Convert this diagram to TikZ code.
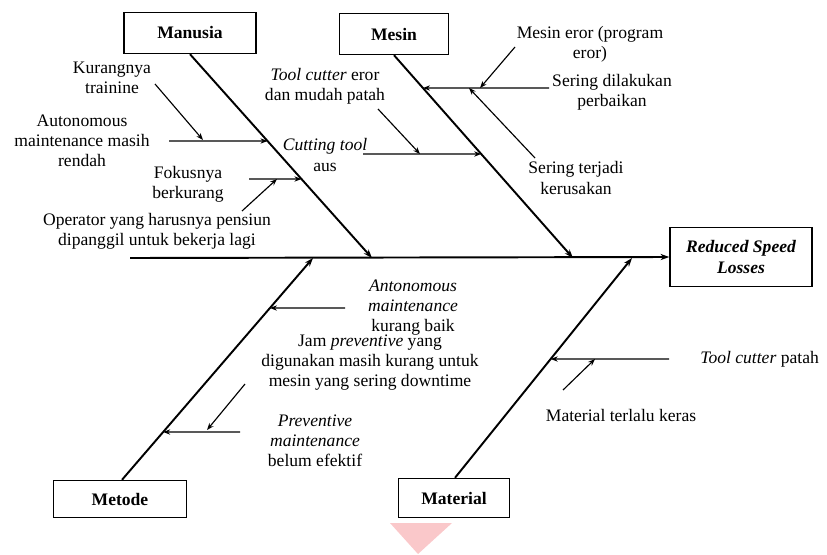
\documentclass[tikz,border=0pt]{standalone}
\usepackage{fontspec}
\setmainfont{Liberation Serif}
\usetikzlibrary{arrows.meta,calc}
\definecolor{wmpink}{RGB}{250,200,202}

\begin{document}
\begin{tikzpicture}[x=0.02cm,y=-0.02cm,
  cat/.style={draw,line width=0.8pt,font=\bfseries,inner sep=0pt},
  txt/.style={align=center,font=\fontsize{10}{11.4}\selectfont,inner sep=0pt},
  bone/.style={line width=1.1pt,-{Stealth[length=5pt,width=3.5pt]}},
  twig/.style={line width=0.65pt,-{Stealth[length=4pt,width=3pt]}}]
	\useasboundingbox (0,0) rectangle (827,554);
	%WATERMARK
	\fill[wmpink] (390,523) -- (452,523) -- (418,554) -- cycle;
	%HEAD AND CATEGORIES
	\node[cat,minimum width=2.84cm,minimum height=1.18cm,font=\bfseries\itshape,align=center] (effect) at (741,257) {Reduced Speed\\Losses};
	\node[cat,minimum width=2.64cm,minimum height=0.82cm] (manusia) at (190,33) {Manusia};
	\node[cat,minimum width=2.18cm,minimum height=0.82cm] (mesin) at (394,34) {Mesin};
	\node[cat,minimum width=2.66cm,minimum height=0.74cm] (metode) at (120,499) {Metode};
	\node[cat,minimum width=2.22cm,minimum height=0.78cm] (material) at (454,498) {Material};
	%SPINE AND BONES
	\coordinate (tail) at (130,258);
	\coordinate (jman) at (372,258);
	\coordinate (jmes) at (573,258);
	\coordinate (jmet) at (313,258);
	\coordinate (jmat) at (632,258);
	\draw[bone] (tail) -- (effect.west);
	\draw[bone] (manusia.south) -- (jman);
	\draw[bone] (mesin.south) -- (jmes);
	\draw[bone] (metode.north) ++(2,0) coordinate (bmet) -- (jmet);
	\draw[bone] (material.north) ++(1,0) coordinate (bmat) -- (jmat);
	%MANUSIA
	\node[txt] (kurang) at (112,78) {Kurangnya\\trainine};
	\node[txt] (auto) at (82,141) {Autonomous\\maintenance masih\\rendah};
	\node[txt] (fokus) at (188,184) {Fokusnya\\berkurang};
	\node[txt] (oper) at (157,231) {Operator yang harusnya pensiun\\dipanggil untuk bekerja lagi};
	\coordinate (a1) at (169,141);
	\coordinate (a2) at (249,179);
	\draw[twig] (a1) -- (intersection of a1--{$(a1)+(1,0)$} and manusia.south--jman) coordinate (a1e);
	\draw[twig] (a2) -- (intersection of a2--{$(a2)+(1,0)$} and manusia.south--jman) coordinate (a2e);
	\draw[twig] (155,84) coordinate (k1) -- (203,140);
	\draw[twig] (242,211) coordinate (o1) -- (277,179);
	%MESIN
	\node[txt] (tcut) at (325,86) {\textit{Tool cutter} eror\\dan mudah patah};
	\node[txt] (ctool) at (325,155) {\textit{Cutting tool}\\aus};
	\node[txt] (meror) at (590,44) {Mesin eror (program\\eror)};
	\node[txt] (sdil) at (612,92) {Sering dilakukan\\perbaikan};
	\node[txt] (sker) at (576,178) {Sering terjadi\\kerusakan};
	\coordinate (b1) at (363,154);
	\coordinate (b2) at (549,88);
	\draw[twig] (b1) -- (intersection of b1--{$(b1)+(1,0)$} and mesin.south--jmes);
	\draw[twig] (b2) -- (intersection of b2--{$(b2)+(1,0)$} and mesin.south--jmes);
	\draw[twig] (378,109) coordinate (t1) -- (420,154);
	\draw[twig] (515,47) coordinate (m1) -- (480,88);
	\draw[twig] (535,158) coordinate (s1) -- (469,88);
	%METODE
	\node[txt] (anto) at (413,308) {\textit{Antonomous}\\\textit{maintenance}\\kurang baik};
	\node[txt] (jam) at (370,363) {Jam \textit{preventive} yang\\digunakan masih kurang untuk\\mesin yang sering downtime};
	\node[txt] (prev) at (315,441) {\textit{Preventive}\\\textit{maintenance}\\belum efektif};
	\coordinate (c1) at (345,308);
	\coordinate (c2) at (240,432);
	\draw[twig] (c1) -- (intersection of c1--{$(c1)+(1,0)$} and bmet--jmet);
	\draw[twig] (c2) -- (intersection of c2--{$(c2)+(1,0)$} and bmet--jmet);
	\draw[twig] (245,384) coordinate (j1) -- (207,430);
	%MATERIAL
	\node[txt,anchor=west] (tpat) at (700,359) {\textit{Tool cutter} patah};
	\node[txt] (keras) at (621,415) {Material terlalu keras};
	\coordinate (d1) at (669,359);
	\draw[twig] (d1) -- (intersection of d1--{$(d1)+(1,0)$} and bmat--jmat);
	\draw[twig] (563,390) coordinate (r1) -- (595,359);
\end{tikzpicture}
\end{document}
